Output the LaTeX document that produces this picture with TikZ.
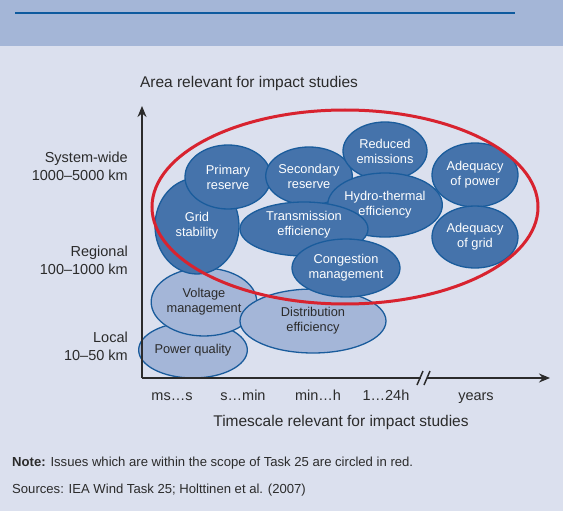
\documentclass[tikz,border=0pt]{standalone}
\usepackage{fontspec}
\setmainfont{Liberation Sans}
\usetikzlibrary{arrows.meta,shapes.geometric}
\definecolor{bgbody}{HTML}{DBE0EE}
\definecolor{bghead}{HTML}{A4B6D7}
\definecolor{headline}{HTML}{0D5A9E}
\definecolor{darkfill}{HTML}{4573AB}
\definecolor{lightfill}{HTML}{A4B6D8}
\definecolor{edge}{HTML}{1A5C9C}
\definecolor{redline}{HTML}{D8232F}
\definecolor{txt}{HTML}{2B2B2B}
\tikzset{
  darkell/.style={ellipse, draw=edge, line width=1.3pt, fill=darkfill, text=white, inner sep=0pt, align=center, font=\fontsize{12.8}{15}\selectfont},
  lightell/.style={ellipse, draw=edge, line width=1.3pt, fill=lightfill, text=txt, inner sep=0pt, align=center, font=\fontsize{12.8}{15}\selectfont},
  axis/.style={line width=2pt, draw=txt, -{Stealth[length=11pt,width=9pt]}},
  lab/.style={text=txt, font=\fontsize{14.5}{18}\selectfont, inner sep=0pt},
  title/.style={text=txt, font=\fontsize{15.5}{18}\selectfont, inner sep=0pt},
  notetext/.style={text=txt, font=\fontsize{13.1}{15}\selectfont, anchor=base west, inner sep=0pt},
}
\begin{document}
\begin{tikzpicture}[x=1pt,y=-1pt]
\useasboundingbox (0,0) rectangle (563,511);
\fill[bgbody] (0,0) rectangle (563,511);
\fill[bghead] (0,0) rectangle (563,46);
\draw[headline, line width=2.4pt] (15,13) -- (515,13);

% light ellipses
\node[lightell, minimum width=102pt, minimum height=56pt] (pq) at (193,350) {Power quality};
\node[lightell, minimum width=86pt, minimum height=68pt] (vm) at (204,302) {Voltage\\management};
\node[lightell, minimum width=146pt, minimum height=64pt] (de) at (313,321) {Distribution\\efficiency};

% dark ellipses
\node[darkell, minimum width=84pt, minimum height=96pt] (gs) at (197,226) {Grid\\stability};
\node[darkell, minimum width=86pt, minimum height=64pt] (pr) at (228,177) {Primary\\reserve};
\node[darkell, minimum width=84pt, minimum height=58pt] (sr) at (309,176) {Secondary\\reserve};
\node[darkell, minimum width=84pt, minimum height=58pt] (re) at (385,151) {Reduced\\emissions};
\node[darkell, minimum width=86pt, minimum height=64pt] (ht) at (385,205) {Hydro-thermal\\efficiency};
\node[darkell, minimum width=128pt, minimum height=54pt] (te) at (304,229) {};
\node[darkell, draw=none, fill=none, yshift=4pt] (tetext) at (te.center) {Transmission\\efficiency};
\node[darkell, minimum width=108pt, minimum height=58pt] (cm) at (346,268) {Congestion\\management};
\node[darkell, minimum width=86pt, minimum height=64pt] (ap) at (475,175) {Adequacy\\of power};
\node[darkell, minimum width=86pt, minimum height=62pt] (ag) at (475,237) {Adequacy\\of grid};

% red scope ellipse
\draw[redline, line width=3pt] (345,207) ellipse [x radius=193, y radius=97];

% axes
\coordinate (O) at (142,378);
\coordinate (ytop) at (142,106);
\coordinate (xend) at (550,378);
\draw[axis] (O) -- (ytop);
\draw[axis] (O) -- (xend);
\fill[bgbody] (421,374) rectangle (427,382);
\draw[txt, line width=1.5pt] (417,385) -- (423,371);
\draw[txt, line width=1.5pt] (424,385) -- (430,371);

% axis titles
\node[title, anchor=base] (ytitle) at (249,88) {Area relevant for impact studies};
\node[title, anchor=base] (xtitle) at (341,426) {Timescale relevant for impact studies};

% y labels
\node[lab, anchor=base east] (sw1) at (128,162) {System-wide};
\node[lab, anchor=base east] (sw2) at (128,180) {1000–5000 km};
\node[lab, anchor=base east] (rg1) at (128,256) {Regional};
\node[lab, anchor=base east] (rg2) at (128,274) {100–1000 km};
\node[lab, anchor=base east] (lc1) at (128,342) {Local};
\node[lab, anchor=base east] (lc2) at (128,360) {10–50 km};

% x labels
\node[lab, anchor=base] (t1) at (172,400) {ms…s};
\node[lab, anchor=base] (t2) at (243,400) {s…min};
\node[lab, anchor=base] (t3) at (318,400) {min…h};
\node[lab, anchor=base] (t4) at (386,400) {1…24h};
\node[lab, anchor=base] (t5) at (476,400) {years};

% notes
\node[notetext] (note) at (12,466) {\textbf{Note:} Issues which are within the scope of Task 25 are circled in red.};
\node[notetext] (src) at (12,493) {Sources: IEA Wind Task 25; Holttinen et al. (2007)};
\end{tikzpicture}
\end{document}
